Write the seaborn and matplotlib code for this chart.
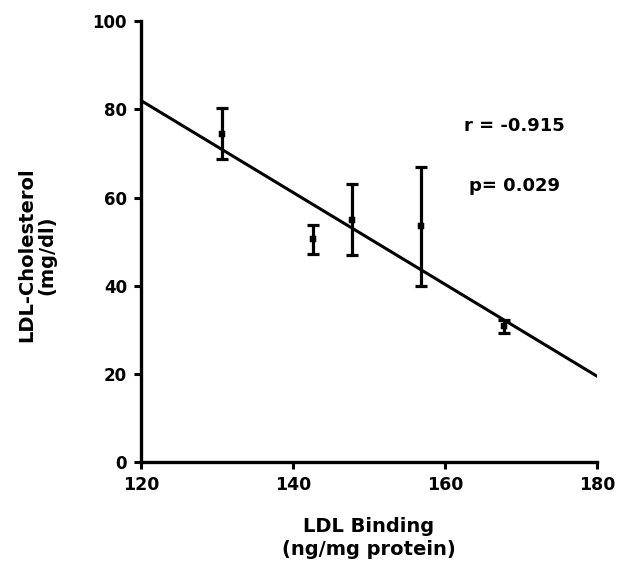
import matplotlib
matplotlib.use("Agg")
import matplotlib.pyplot as plt
import seaborn as sns
import pandas as pd

# Data
ldl_binding = [130.7, 142.6, 147.8, 156.8, 167.7]
ldl_chol = [74.5, 50.5, 55.0, 53.5, 30.8]
chol_err = [5.8, 3.2, 8.0, 13.5, 1.5]
fit_x = [120, 180]
fit_y = [82.0, 19.5]
x_ticks = [120, 140, 160, 180]
y_ticks = [0, 20, 40, 60, 80, 100]
stats_text = ["r = -0.915", "p= 0.029"]

df = pd.DataFrame({"binding": ldl_binding, "chol": ldl_chol, "err": chol_err})
fit = pd.DataFrame({"x": fit_x, "y": fit_y})

sns.set_style("ticks")
plt.rcParams["font.family"] = ["DejaVu Sans"]
plt.rcParams["font.weight"] = "bold"
plt.rcParams["text.color"] = "black"
plt.rcParams["axes.labelcolor"] = "black"
plt.rcParams["xtick.color"] = "black"
plt.rcParams["ytick.color"] = "black"

fig = plt.figure(figsize=(6.4, 5.83), dpi=100)
ax = fig.add_axes([0.220, 0.207, 0.713, 0.757])

sns.lineplot(data=fit, x="x", y="y", ax=ax, color="black", linewidth=2.2)
ax.errorbar(df["binding"], df["chol"], yerr=df["err"], fmt="none",
            ecolor="black", elinewidth=2.3, capsize=4, capthick=2.3)
sns.scatterplot(data=df, x="binding", y="chol", ax=ax, color="black",
                marker="s", s=20, edgecolor="black", zorder=5)

ax.set_xlim(120, 180)
ax.set_ylim(0, 100)
ax.set_xticks(x_ticks)
ax.set_yticks(y_ticks)
ax.set_xticklabels([str(t) for t in x_ticks], fontsize=12.5, fontweight="bold")
ax.set_yticklabels([str(t) for t in y_ticks], fontsize=12, fontweight="bold")
ax.tick_params(axis="both", direction="out", length=5, width=2.2, color="black")
ax.tick_params(axis="x", pad=5)
ax.tick_params(axis="y", pad=5)
for s in ["top", "right"]:
    ax.spines[s].set_visible(False)
for s in ["left", "bottom"]:
    ax.spines[s].set_linewidth(2.4)
    ax.spines[s].set_color("black")

ax.set_xlabel("LDL Binding\n(ng/mg protein)", fontsize=14, fontweight="bold",
              linespacing=1.25)
ax.set_ylabel("LDL-Cholesterol\n(mg/dl)", fontsize=14, fontweight="bold",
              linespacing=1.05)
ax.xaxis.set_label_coords(0.5, -0.125)
ax.yaxis.set_label_coords(-0.185, 0.47)

ax.text(162.5, 76.2, stats_text[0], fontsize=13, fontweight="bold",
        va="center", ha="left")
ax.text(163.2, 62.6, stats_text[1], fontsize=13, fontweight="bold",
        va="center", ha="left")

fig.savefig("out.png", dpi=100)
